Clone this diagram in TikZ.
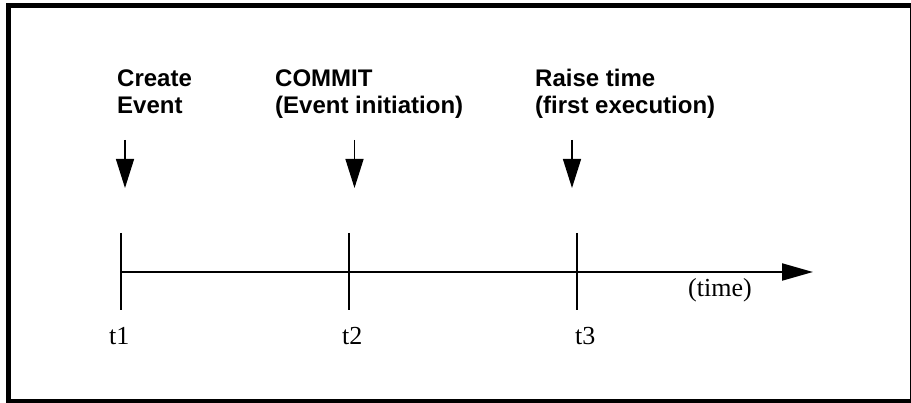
\documentclass[tikz,border=0pt]{standalone}
\usepackage{fontspec}
\setmainfont{Liberation Serif}
\newfontfamily\labfont{Liberation Sans}
\usetikzlibrary{arrows.meta}
\tikzset{
  evlabel/.style={anchor=base west, inner sep=0pt, font=\labfont\bfseries\fontsize{24}{27}\selectfont},
  tlabel/.style={anchor=base west, inner sep=0pt, font=\fontsize{26}{28}\selectfont},
  evarrow/.style={line width=1.3pt, -{Triangle[length=29pt, width=18pt]}},
  tick/.style={line width=1.5pt},
  axis/.style={line width=2pt, -{Triangle[length=31pt, width=17pt]}},
  frame/.style={line width=5pt}
}
\begin{document}
\begin{tikzpicture}[x=1pt, y=-1pt]
\useasboundingbox (0,0) rectangle (911,403);
\clip (0,0) rectangle (911,403);
\draw[frame] (8.5,6) rectangle (912,401.5);

% event labels
\node[evlabel] (lc) at (117,86.7) {\begin{tabular}[t]{@{}l@{}}Create\\Event\end{tabular}};
\node[evlabel] (lm) at (275,87) {\begin{tabular}[t]{@{}l@{}}COMMIT\\(Event initiation)\end{tabular}};
\node[evlabel] (lr) at (535,87) {\begin{tabular}[t]{@{}l@{}}Raise time\\(first execution)\end{tabular}};

% event arrows
\coordinate (a1s) at (125,140); \coordinate (a1e) at (125,188);
\coordinate (a2s) at (354.5,140); \coordinate (a2e) at (354.5,188);
\coordinate (a3s) at (572,140); \coordinate (a3e) at (572,188);
\draw[evarrow] (a1s) -- (a1e);
\draw[evarrow] (a2s) -- (a2e);
\draw[evarrow] (a3s) -- (a3e);

% ticks
\coordinate (k1t) at (121,233); \coordinate (k1b) at (121,310);
\coordinate (k2t) at (349,233); \coordinate (k2b) at (349,310);
\coordinate (k3t) at (577,233); \coordinate (k3b) at (577,310);
\draw[tick] (k1t) -- (k1b);
\draw[tick] (k2t) -- (k2b);
\draw[tick] (k3t) -- (k3b);

% time axis
\coordinate (ax0) at (121,272);
\coordinate (ax1) at (813,272);
\draw[axis] (ax0) -- (ax1);
\node[tlabel] (time) at (688,297) {(time)};

% tick labels
\node[tlabel] (t1) at (109,345) {t1};
\node[tlabel] (t2) at (342,345) {t2};
\node[tlabel] (t3) at (575,345) {t3};
\end{tikzpicture}
\end{document}
